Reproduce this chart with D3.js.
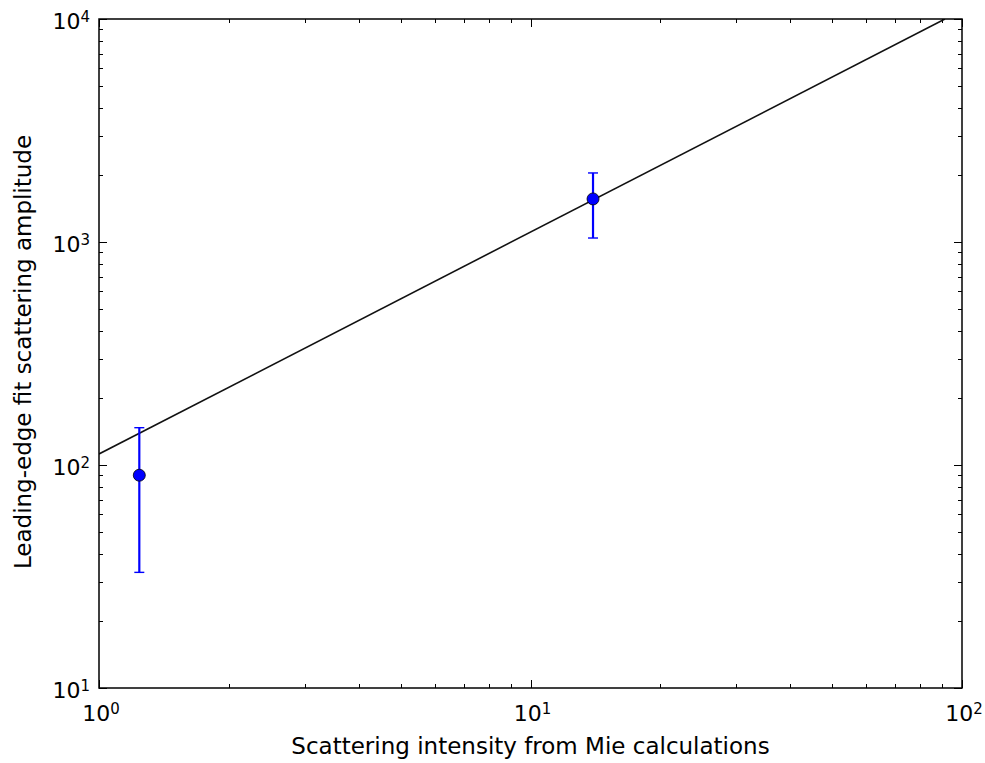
<!DOCTYPE html>
<html><head><meta charset="utf-8">
<script src="https://cdn.jsdelivr.net/npm/d3@7"></script>
<style>body{margin:0;background:#fff}svg{display:block}text{font-family:"DejaVu Sans",sans-serif}</style>
</head><body><svg id="c" width="985" height="763"></svg>
<script>
const pointsX = [1.24, 13.96];
const pointsY = [90, 1560];
const errLow = [33, 1042];
const errHigh = [147, 2040];
const fitX = [1, 91.3];
const fitY = [112, 10000];
const xTicks = [1, 10, 100];
const yTicks = [10, 100, 1000, 10000];
const xLabel = "Scattering intensity from Mie calculations";
const yLabel = "Leading-edge fit scattering amplitude";

const svg = d3.select("#c");
const L = 99, R = 962, T = 19, B = 688;
const x = d3.scaleLog().domain([1, 100]).range([L, R]);
const y = d3.scaleLog().domain([10, 10000]).range([B, T]);

const g = svg.append("g");
g.append("defs").append("clipPath").attr("id","clip").append("rect")
 .attr("x",L).attr("y",T).attr("width",R-L).attr("height",B-T);

function minors(dom){
  const out=[];
  for(let d=dom[0]; d<dom[1]; d*=10) for(let k=2;k<10;k++) out.push(d*k);
  return out;
}
const MAJ=8, MIN=4;
const tg = g.append("g").attr("stroke","#000").attr("stroke-width",1);
[[xTicks,MAJ],[minors([1,100]),MIN]].forEach(([vals,len])=>{
  vals.forEach(v=>{
    const px=Math.round(x(v))+0.5;
    tg.append("line").attr("x1",px).attr("x2",px).attr("y1",B).attr("y2",B-len);
    tg.append("line").attr("x1",px).attr("x2",px).attr("y1",T).attr("y2",T+len);
  });
});
[[yTicks,MAJ],[minors([10,10000]),MIN]].forEach(([vals,len])=>{
  vals.forEach(v=>{
    const py=Math.round(y(v))+0.5;
    tg.append("line").attr("y1",py).attr("y2",py).attr("x1",L).attr("x2",L+len);
    tg.append("line").attr("y1",py).attr("y2",py).attr("x1",R).attr("x2",R-len);
  });
});

// fit line
const line = d3.line().x(d=>x(d[0])).y(d=>y(d[1]));
g.append("path").datum(fitX.map((v,i)=>[v,fitY[i]]))
 .attr("d",line).attr("fill","none").attr("stroke","#111").attr("stroke-width",1.6)
 .attr("clip-path","url(#clip)");

// error bars
const eg = g.append("g").attr("stroke","#0000ff").attr("stroke-width",2.2);
pointsX.forEach((v,i)=>{
  const px=x(v);
  eg.append("line").attr("x1",px).attr("x2",px).attr("y1",y(errLow[i])).attr("y2",y(errHigh[i]));
  [errLow[i],errHigh[i]].forEach(e=>{
    eg.append("line").attr("x1",px-5).attr("x2",px+5).attr("y1",y(e)).attr("y2",y(e)).attr("stroke-width",1.4);
  });
});
g.append("g").selectAll("circle").data(pointsX).join("circle")
 .attr("cx",d=>x(d)).attr("cy",(d,i)=>y(pointsY[i])).attr("r",6)
 .attr("fill","#0000ff").attr("stroke","#000").attr("stroke-width",0.8);

// frame
g.append("rect").attr("x",L).attr("y",T).attr("width",R-L).attr("height",B-T)
 .attr("fill","none").attr("stroke","#000").attr("stroke-width",1.5);

// tick labels
function expLabel(sel, v){
  const e=Math.round(Math.log10(v));
  sel.append("tspan").text("10");
  sel.append("tspan").attr("dy","-0.5em").attr("font-size","15px").text(e);
}
xTicks.forEach(v=>{
  const t=g.append("text").attr("x",x(v)+2).attr("y",B+33).attr("text-anchor","middle")
   .attr("font-size","22px").attr("fill","#000");
  expLabel(t,v);
});
yTicks.forEach(v=>{
  const t=g.append("text").attr("x",L-9).attr("y",y(v)+10).attr("text-anchor","end")
   .attr("font-size","22px").attr("fill","#000");
  expLabel(t,v);
});

g.append("text").attr("x",(L+R)/2).attr("y",754).attr("text-anchor","middle")
 .attr("font-size","23px").attr("fill","#000").text(xLabel);
g.append("text").attr("transform",`translate(31,352) rotate(-90)`).attr("text-anchor","middle")
 .attr("font-size","23px").attr("fill","#000").text(yLabel);
</script></body></html>
